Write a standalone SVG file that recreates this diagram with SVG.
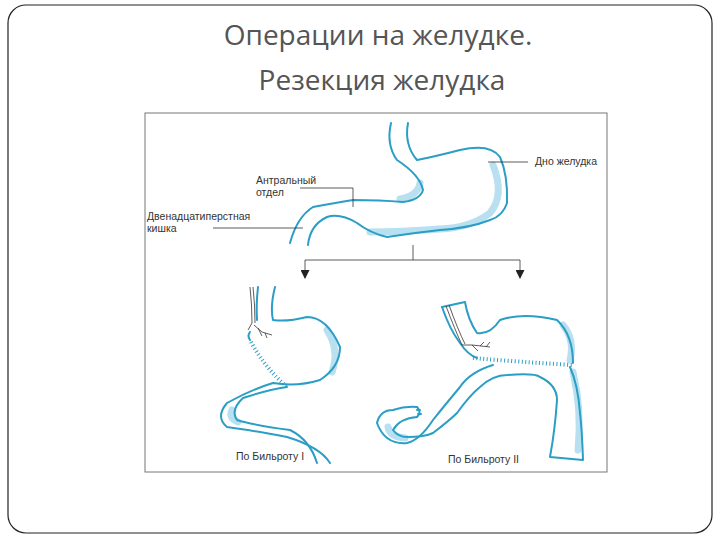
<svg xmlns="http://www.w3.org/2000/svg" width="720" height="540" viewBox="0 0 720 540">
<style>
.t{font-family:"Open Sans","Liberation Sans",sans-serif;fill:#555;font-size:28px;text-anchor:middle}
.l{font-family:"Liberation Sans",sans-serif;fill:#333;font-size:10.5px}
.b{fill:none;stroke:#2a9ec4;stroke-width:2;stroke-linecap:round;stroke-linejoin:round}
.f{fill:none;stroke:#b8e0f0;stroke-width:7;stroke-linecap:round}
.k{fill:none;stroke:#333;stroke-width:0.8}
.s{fill:none;stroke:#2a9ec4;stroke-width:4;stroke-dasharray:1 2.5}
</style>
<defs><marker id="a" markerWidth="9" markerHeight="9" refX="8" refY="4.5" orient="auto" markerUnits="userSpaceOnUse"><path d="M0,0 L9,4.5 L0,9 Z" fill="#222"/></marker></defs>
<rect x="0" y="0" width="720" height="540" fill="#fff"/>
<rect x="8" y="5" width="704" height="528" rx="18" fill="#fff" stroke="#222" stroke-width="1.2"/>
<text class="t" x="378" y="45">Операции на желудке.</text>
<text class="t" x="382" y="90">Резекция желудка</text>
<rect x="145" y="113" width="462" height="359" fill="#fff" stroke="#777" stroke-width="1"/>
<g id="top">
<path class="f" d="M493,165 Q505,195 490,213 Q470,228 440,229 Q400,232 370,232"/>
<path class="f" d="M420,183 Q418,196 400,199"/>
<path class="b" d="M391,123 Q386,145 397,160 Q420,175 423,190 Q420,200 403,202 Q380,200 353,200 Q335,203 313,207 Q297,217 290,243"/>
<path class="b" d="M408,123 Q404,145 417,160 Q433,157 460,150 Q490,143 500,157 Q508,175 507,203 Q503,216 490,220 Q470,228 440,230 Q413,233 387,237 Q370,233 357,223 Q340,213 327,217 Q310,225 308,245"/>
</g>
<g id="labels">
<text class="l" x="535" y="165">Дно желудка</text>
<path class="k" d="M488,162 H528"/>
<text class="l" x="256" y="184">Антральный</text>
<text class="l" x="256" y="196">отдел</text>
<path class="k" d="M300,188 H353 V207"/>
<text class="l" x="147" y="220">Двенадцатиперстная</text>
<text class="l" x="147" y="232">кишка</text>
<path class="k" d="M213,228 H303"/>
</g>
<g id="connectors">
<path class="k" d="M413,245 V260 M305,260 H520"/>
<path class="k" d="M305,260 V278" marker-end="url(#a)"/>
<path class="k" d="M520,260 V278" marker-end="url(#a)"/>
</g>
<g id="billroth1">
<path class="f" d="M327,330 Q340,350 332,372"/>
<path class="f" d="M232,410 Q228,418 238,422"/>
<path class="b" d="M258,287 Q256,305 257,320"/>
<path class="k" d="M250,287 Q252,305 252,323 M253,287 Q255,305 255,323 M252,323 L248,330 M254,325 L262,332 L272,335 M258,328 L262,336 M265,333 L267,338"/>
<path class="b" d="M250,332 Q247,336 250,340"/>
<path class="s" d="M251,342 Q265,368 287,387"/>
<path class="b" d="M275,287 Q270,307 273,320 Q287,322 307,317 Q327,317 340,347 Q340,367 320,380 Q297,387 273,383 Q250,390 227,403 Q215,417 227,427 Q250,430 287,437 Q320,447 330,463"/>
<path class="b" d="M287,387 Q267,390 243,398 Q230,410 237,420 Q253,425 290,430 Q310,440 317,463"/>
<text class="l" x="236" y="460">По Бильроту I</text>
</g>
<g id="billroth2">
<path class="f" d="M563,325 Q575,340 570,360"/>
<path class="f" d="M573,372 Q582,410 578,450"/>
<path class="f" d="M388,427 Q390,437 405,438"/>
<path class="b" d="M442,307 L465,302 Q468,320 477,333 Q490,335 500,320 Q523,312 557,320 Q573,335 573,363"/>
<path class="b" d="M442,307 Q450,330 460,343 Q468,355 477,358"/>
<path class="k" d="M446,306 Q455,330 462,345 M449,305 Q458,330 465,344 M462,345 L472,345 L490,347 M472,345 L478,351 M480,346 L484,342 M486,347 L490,342"/>
<path class="s" d="M473,358 Q520,362 573,365"/>
<path class="b" d="M493,365 Q470,372 460,387 Q445,405 433,420 Q420,440 407,443 Q385,445 377,423 Q380,410 393,410 Q405,406 417,407"/>
<path class="b" d="M417,407 Q422,412 417,417 M417,410 H420 M418,414 H421"/>
<path class="b" d="M417,417 Q400,418 393,430 Q398,437 407,437 Q425,437 433,433 Q450,420 457,413 Q470,395 480,387 Q493,375 507,375 Q535,373 540,377 Q557,385 557,400 Q555,430 550,457 L583,460 Q582,430 580,413 Q578,385 570,367"/>
<text class="l" x="448" y="463">По Бильроту II</text>
</g>
</svg>
